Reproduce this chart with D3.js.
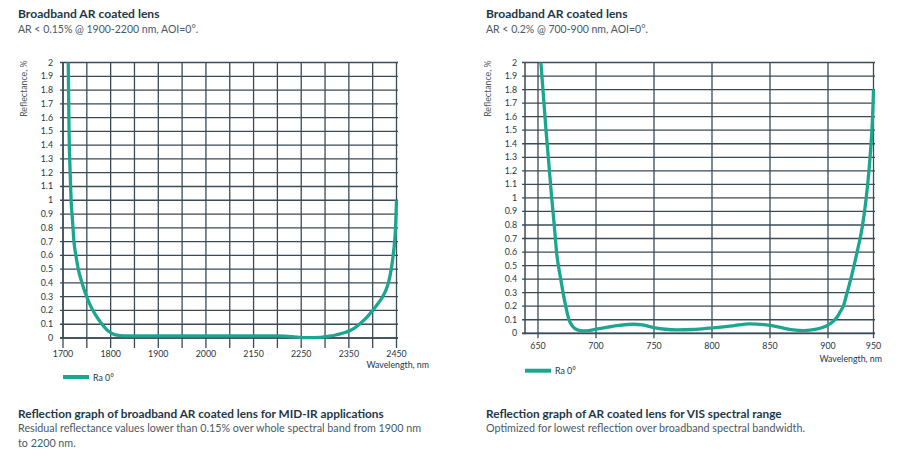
<!DOCTYPE html>
<html><head><meta charset="utf-8">
<script src="https://cdn.jsdelivr.net/npm/d3@7"></script>
<style>body{margin:0;background:#fff}svg{display:block}text{font-family:Lato,"Open Sans",sans-serif}</style>
</head><body>
<svg id="c" width="900" height="459"></svg>
<script>
// ---------- data ----------
const yTickValues = [0,0.1,0.2,0.3,0.4,0.5,0.6,0.7,0.8,0.9,1,1.1,1.2,1.3,1.4,1.5,1.6,1.7,1.8,1.9,2];

const leftXTicks = [1700,1800,1900,2000,2150,2250,2350,2450];
const leftWave = [1711,1712.7,1715,1717,1720,1723,1727,1732,1739.5,1748.5,1755,1762,1772,1782,1795,1810,1830,1860,1900,2000,2150,2200,2230,2260,2290,2305,2320,2340,2350,2360,2372,2385,2395,2400,2410,2421,2428,2433,2439,2443,2446,2448,2449,2450];
const leftRefl = [2.0,1.5,1.2,1.0,0.85,0.7,0.6,0.5,0.405,0.31,0.255,0.205,0.148,0.1,0.05,0.022,0.015,0.015,0.015,0.015,0.015,0.015,0.01,0.003,0.005,0.012,0.02,0.038,0.05,0.068,0.1,0.14,0.18,0.2,0.245,0.3,0.35,0.4,0.5,0.6,0.7,0.8,0.9,1.0];

const rightXTicks = [650,700,750,800,850,900,950];
const rightXStart = 640;
const rightWave = [652.5,656.9,661.8,664,666,669.6,673.9,676.7,680,684,689,695,700,710,720,732,740,750,760,770,784,800,818,832,847,858,870,879,890,900,906,910,913.5,916.8,921,925,932,938,942,946.2,949,950];
const rightRefl = [2.0,1.5,1.0,0.8,0.6,0.4,0.2,0.1,0.05,0.025,0.018,0.022,0.03,0.045,0.058,0.067,0.062,0.042,0.03,0.026,0.028,0.04,0.055,0.07,0.062,0.045,0.025,0.02,0.03,0.06,0.09,0.12,0.16,0.2,0.3,0.4,0.6,0.8,1.0,1.3,1.6,1.8];

// ---------- style ----------
const TEAL = "#1ba78f", GRID = "#3a4b57", DARK = "#1e3745", BODY = "#4a5965";
const svg = d3.select("#c");

function drawChart(cfg) {
  const g = svg.append("g");
  const x = d3.scaleLinear().domain(cfg.xDomain).range(cfg.xRange);
  const y = d3.scaleLinear().domain([0, 2]).range([cfg.bottom, cfg.top]);

  // horizontal grid
  g.selectAll(".hg").data(yTickValues).join("line")
    .attr("x1", cfg.left - 3).attr("x2", cfg.right + 1.5)
    .attr("y1", d => y(d)).attr("y2", d => y(d))
    .attr("stroke", GRID).attr("stroke-width", 1.3);
  // vertical grid
  g.selectAll(".vg").data(cfg.vGrid).join("line")
    .attr("x1", d => x(d)).attr("x2", d => x(d))
    .attr("y1", cfg.top).attr("y2", cfg.bottom + cfg.tickLen)
    .attr("stroke", GRID).attr("stroke-width", 1.3);
  // axis lines
  g.append("line").attr("x1", cfg.left).attr("x2", cfg.left)
    .attr("y1", cfg.top).attr("y2", cfg.bottom + 1)
    .attr("stroke", GRID).attr("stroke-width", 1.5);
  g.append("line").attr("x1", cfg.left - 3).attr("x2", cfg.right + 1.5)
    .attr("y1", cfg.bottom).attr("y2", cfg.bottom)
    .attr("stroke", GRID).attr("stroke-width", 1.7);

  // y labels
  g.selectAll(".yl").data(yTickValues).join("text")
    .attr("x", cfg.yLabelX).attr("y", d => y(d) + 3)
    .attr("text-anchor", "end").attr("font-size", 8.8).attr("fill", DARK)
    .text(d => String(+d.toFixed(1)));
  // x labels
  g.selectAll(".xl").data(cfg.xTicks).join("text")
    .attr("x", d => x(d)).attr("y", cfg.xLabelY)
    .attr("text-anchor", "middle").attr("font-size", 8.8).attr("fill", DARK)
    .text(d => d);
  // axis titles
  g.append("text").attr("transform", `translate(${cfg.yTitleX},${cfg.top - 2}) rotate(-90)`)
    .attr("text-anchor", "end").attr("font-size", 8.8).attr("fill", BODY)
    .text("Reflectance, %");
  g.append("text").attr("x", cfg.xTitleX).attr("y", cfg.xTitleY)
    .attr("text-anchor", "end").attr("font-size", 8.8).attr("fill", DARK)
    .text("Wavelength, nm");

  // curve
  const pts = cfg.wave.map((w, i) => [w, cfg.refl[i]]);
  g.append("path").datum(pts)
    .attr("d", d3.line().x(d => x(d[0])).y(d => y(d[1])).curve(d3.curveMonotoneX))
    .attr("fill", "none").attr("stroke", TEAL).attr("stroke-width", 3.3)
    .attr("stroke-linejoin", "round");

  // legend
  g.append("line").attr("x1", cfg.left).attr("x2", cfg.left + 26)
    .attr("y1", cfg.legendY).attr("y2", cfg.legendY)
    .attr("stroke", TEAL).attr("stroke-width", 4);
  g.append("text").attr("x", cfg.left + 30).attr("y", cfg.legendY + 3.5)
    .attr("font-size", 8.8).attr("fill", DARK).text("Ra 0°");

  // titles
  g.append("text").attr("x", cfg.textX).attr("y", 18)
    .attr("font-size", 12.1).attr("font-weight", 700).attr("fill", DARK).text(cfg.title);
  g.append("text").attr("x", cfg.textX).attr("y", 33)
    .attr("font-size", 10.5).attr("fill", BODY).text(cfg.subtitle);
  g.append("text").attr("x", cfg.textX).attr("y", 418)
    .attr("font-size", 11.8).attr("font-weight", 700).attr("fill", DARK).text(cfg.capTitle);
  cfg.capLines.forEach((t, i) => {
    g.append("text").attr("x", cfg.textX).attr("y", 432 + i * 14.5)
      .attr("font-size", 10.75).attr("fill", BODY).text(t);
  });
}

// left chart
{
  const left = 63, right = 396.5;
  const step = (right - left) / (leftXTicks.length - 1);
  const mids = d3.pairs(leftXTicks).map(([a, b]) => (a + b) / 2);
  drawChart({
    left, right, top: 62.5, bottom: 338,
    xDomain: leftXTicks, xRange: leftXTicks.map((d, i) => left + i * step),
    xTicks: leftXTicks, vGrid: leftXTicks.concat(mids), tickLen: 10,
    wave: leftWave, refl: leftRefl,
    yLabelX: 53, yTitleX: 27, xLabelY: 357, xTitleX: 429, xTitleY: 368, legendY: 377,
    textX: 18,
    title: "Broadband AR coated lens",
    subtitle: "AR < 0.15% @ 1900-2200 nm, AOI=0°.",
    capTitle: "Reflection graph of broadband AR coated lens for MID-IR applications",
    capLines: ["Residual reflectance values lower than 0.15% over whole spectral band from 1900 nm", "to 2200 nm."]
  });
}
// right chart
{
  const left = 525, right = 873.5, first = 538, step = 58;
  const dom = [rightXStart].concat(rightXTicks);
  const rng = [left].concat(rightXTicks.slice(0, -1).map((d, i) => first + i * step), [right]);
  drawChart({
    left, right, top: 62.5, bottom: 333.3,
    xDomain: dom, xRange: rng,
    xTicks: rightXTicks, vGrid: rightXTicks, tickLen: 5,
    wave: rightWave, refl: rightRefl,
    yLabelX: 517, yTitleX: 491, xLabelY: 348.5, xTitleX: 882, xTitleY: 362, legendY: 370.7,
    textX: 486,
    title: "Broadband AR coated lens",
    subtitle: "AR < 0.2% @ 700-900 nm, AOI=0°.",
    capTitle: "Reflection graph of AR coated lens for VIS spectral range",
    capLines: ["Optimized for lowest reflection over broadband spectral bandwidth."]
  });
}
</script>
</body></html>
